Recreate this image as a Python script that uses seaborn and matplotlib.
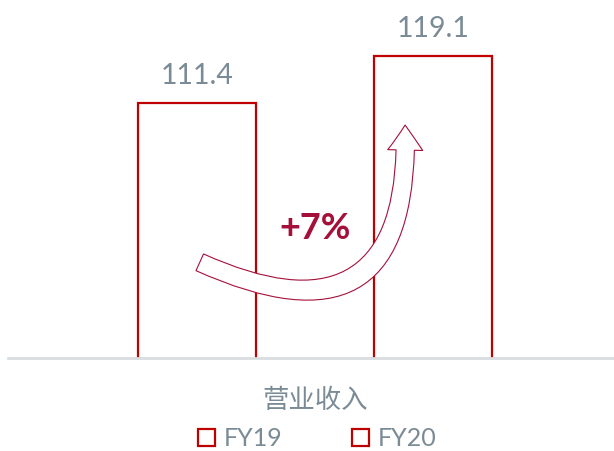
import matplotlib
matplotlib.use("Agg")
import matplotlib.pyplot as plt
import pandas as pd
import seaborn as sns

# data
category = ["营业收入"]
years = ["FY19", "FY20"]
values = [111.4, 119.1]
growth_label = "+7%"

df = pd.DataFrame({"item": category * len(years), "year": years, "value": values})

sns.set_theme(style="white")
plt.rcParams['font.family'] = ['Lato', 'Noto Sans CJK SC', 'DejaVu Sans']

red = "#c00000"
dark_red = "#a5103a"
grey = "#7b8b95"

fig = plt.figure(figsize=(6.14, 4.51), dpi=100)
ax = fig.add_axes([0.013, 0.206, 0.987, 0.794])

sns.barplot(data=df, x="item", y="value", hue="year", palette=[red, red],
            fill=False, gap=0.5, linewidth=1.6, ax=ax, legend=True)

ax.set_ylim(69.6, 128.3)
ax.set_xlim(-0.521, 0.506)

# value labels above the bars
for p, v in zip(ax.patches, values):
    cx = p.get_x() + p.get_width() / 2
    ax.annotate(f"{v}", (cx, v), xytext=(0, 14), textcoords="offset points",
                ha="center", va="baseline", fontsize=20.5, color=grey)

# curved growth arrow between the bars
ax.annotate("", xy=(0.152, 107.8), xytext=(-0.196, 85.3),
            arrowprops=dict(arrowstyle="simple,head_length=0.75,head_width=1.05,tail_width=0.55",
                            connectionstyle="arc3,rad=0.8", fc="white", ec=dark_red,
                            lw=0.8, mutation_scale=24, shrinkA=0, shrinkB=0))
ax.text(0.0, 90.8, growth_label, ha="center", va="center",
        fontsize=26, fontweight="bold", color=dark_red)

# axes styling
ax.set_yticks([])
ax.set_xlabel("")
ax.set_ylabel("")
for s in ["top", "left", "right"]:
    ax.spines[s].set_visible(False)
ax.spines["bottom"].set_color("#d9dde0")
ax.spines["bottom"].set_linewidth(2)
ax.spines["bottom"].set_zorder(5)
ax.tick_params(axis="x", length=0, pad=21)
for t in ax.get_xticklabels():
    t.set_fontsize(19)
    t.set_color(grey)
    t.set_family(["Noto Sans CJK SC", "DejaVu Sans"])

handles, labels = ax.get_legend_handles_labels()
ax.get_legend().remove()
fig.legend(handles, labels, loc="center", bbox_to_anchor=(317 / 614, 1 - 439 / 451),
           ncol=2, frameon=False, fontsize=18, labelcolor=grey,
           handlelength=0.68, handleheight=0.68, handletextpad=0.35,
           columnspacing=2.8, borderpad=0)

fig.savefig("out.png", dpi=100)
